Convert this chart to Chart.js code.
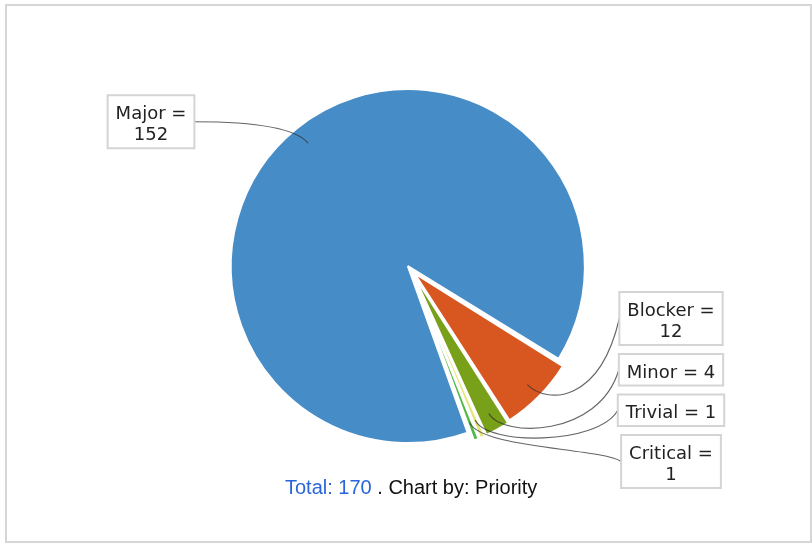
<!DOCTYPE html>
<html>
<head>
<meta charset="UTF-8">
<title>Chart by: Priority</title>
<style>
    body {
        margin: 0;
        background: #fff;
    }

    #wrap {
        position: relative;
        width: 812px;
        height: 543px;
        overflow: hidden;
    }

    #chart {
        position: absolute;
        left: 0;
        top: 0;
    }

    #frame {
        position: absolute;
        left: 5px;
        top: 4px;
        width: 807px;
        height: 539px;
        box-sizing: border-box;
        border: 2px solid #d6d6d6;
        pointer-events: none;
    }

    #footer {
        position: absolute;
        left: 285px;
        top: 476px;
        font-family: "Liberation Sans", Arial, sans-serif;
        font-size: 20px;
        line-height: 23px;
        color: #111;
        white-space: nowrap;
    }

    #footer a {
        color: #2a66d9;
        text-decoration: none;
    }
</style>
</head>
<body>
<div id="wrap">
    <canvas id="chart" width="812" height="543"></canvas>
    <div id="frame"></div>
    <div id="footer"><a href="#">Total: 170</a> . Chart by: Priority</div>
</div>

<script src="https://cdn.jsdelivr.net/npm/chart.js"></script>
<script>
    const categories = ["Major", "Blocker", "Minor", "Trivial", "Critical"];
    const counts = [152, 12, 4, 1, 1];
    const sliceColors = ["#468cc6", "#d8561f", "#78a018", "#e4e67a", "#52b848"];

    const labelFont = '18px "DejaVu Sans", sans-serif';
    const lineH = 21.5;
    const padX = 8;
    const boxGap = 9;

    // split a label on spaces so no line is wider than maxW
    function wrap(ctx, text, maxW) {
        const words = text.split(" ");
        const lines = [];
        let cur = "";
        words.forEach(w => {
            const test = cur ? cur + " " + w : w;
            if (cur && ctx.measureText(test).width > maxW) {
                lines.push(cur);
                cur = w;
            } else {
                cur = test;
            }
        });
        if (cur) lines.push(cur);
        return lines;
    }

    // boxes on each side, pushed apart and kept above the bottom limit
    function spread(items, maxBottom) {
        items.sort((a, b) => a.want - b.want);
        let prev = -Infinity;
        items.forEach(it => {
            it.top = Math.max(it.want - it.h / 2, prev + boxGap);
            prev = it.top + it.h;
        });
        let limit = maxBottom;
        for (let k = items.length - 1; k >= 0; k--) {
            const it = items[k];
            if (it.top + it.h > limit) it.top = limit - it.h;
            limit = it.top - boxGap;
        }
    }

    const labelPlugin = {
        id: "pieLabels",
        afterDatasetsDraw(chart) {
            const ctx = chart.ctx;
            const arcs = chart.getDatasetMeta(0).data;
            ctx.save();
            ctx.font = labelFont;

            const items = arcs.map((arc, i) => {
                const p = arc.getProps(["x", "y", "startAngle", "endAngle", "outerRadius"]);
                const mid = (p.startAngle + p.endAngle) / 2;
                const dx = Math.cos(mid), dy = Math.sin(mid);
                const shift = (arc.options.offset || 0) / 4;
                const r = p.outerRadius;
                const lines = wrap(ctx, categories[i] + " = " + counts[i], 96);
                const w = Math.max(...lines.map(l => ctx.measureText(l).width)) + 2 * padX;
                const h = lines.length * lineH + 10;
                const right = dx >= 0;
                return {
                    lines, w, h, right,
                    cx: p.x + (right ? 1 : -1) * (r + 88),
                    want: p.y + dy * r * 1.11,
                    link: { x: p.x + dx * (r * 0.92 + shift), y: p.y + dy * (r * 0.92 + shift) },
                    elbow: { x: p.x + dx * r * 1.11, y: p.y + dy * r * 1.11 }
                };
            });

            const maxBottom = chart.chartArea.bottom + 35;
            spread(items.filter(it => it.right), maxBottom);
            spread(items.filter(it => !it.right), maxBottom);

            items.forEach(it => {
                const left = it.cx - it.w / 2;
                const tx = it.right ? left : left + it.w;
                const ty = it.top + it.h / 2;
                const anchorX = tx + (it.right ? -20 : 20);

                // leader line: box edge -> anchor column -> elbow -> point inside the slice
                ctx.beginPath();
                ctx.moveTo(tx, ty);
                ctx.bezierCurveTo(anchorX, it.elbow.y, it.elbow.x, it.elbow.y, it.link.x, it.link.y);
                ctx.strokeStyle = "rgba(50, 50, 50, 0.75)";
                ctx.lineWidth = 1.1;
                ctx.stroke();

                // label box
                ctx.fillStyle = "#fff";
                ctx.fillRect(left, it.top, it.w, it.h);
                ctx.strokeStyle = "#d4d4d4";
                ctx.lineWidth = 2;
                ctx.strokeRect(left, it.top, it.w, it.h);

                ctx.fillStyle = "#222";
                ctx.textAlign = "center";
                ctx.textBaseline = "alphabetic";
                it.lines.forEach((l, k) => {
                    ctx.fillText(l, it.cx, it.top + 23.5 + k * lineH);
                });
            });
            ctx.restore();
        }
    };

    const chart = new Chart(document.getElementById("chart").getContext("2d"), {
        type: "pie",
        data: {
            labels: categories,
            datasets: [{
                data: counts,
                backgroundColor: sliceColors,
                borderColor: "#fff",
                borderWidth: 2,
                offset: 20,
                hoverOffset: 0
            }]
        },
        options: {
            responsive: false,
            animation: false,
            events: [],
            rotation: 160,
            layout: {
                padding: { left: 228, right: 218, top: 87, bottom: 90 }
            },
            plugins: {
                legend: { display: false },
                tooltip: { enabled: false }
            }
        },
        plugins: [labelPlugin]
    });
</script>
</body>
</html>
